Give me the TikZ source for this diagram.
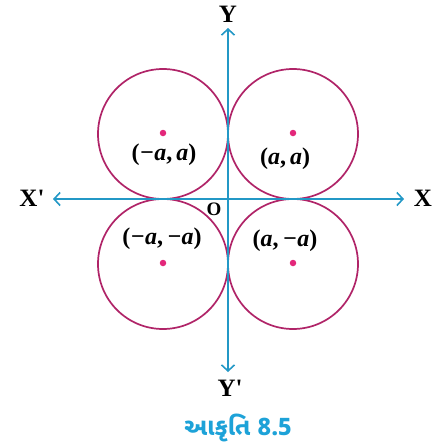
\documentclass[tikz,border=0pt]{standalone}
\usepackage{fontspec}
\setmainfont{Liberation Serif}
\newfontfamily\gujfont[Script=Gujarati]{Noto Sans Gujarati UI}
\usetikzlibrary{arrows.meta}
\definecolor{circcol}{HTML}{B02468}
\definecolor{dotcol}{HTML}{E3277A}
\definecolor{axiscol}{HTML}{2398C6}
\definecolor{capcol}{HTML}{1DA2D8}
\tikzset{
  axis/.style={draw=axiscol, line width=2pt, {Straight Barb[length=6pt,width=13pt,line width=1.6pt]}-{Straight Barb[length=6pt,width=13pt,line width=1.6pt]}},
  circ/.style={draw=circcol, line width=1.7pt},
  cdot/.style={circle, fill=dotcol, inner sep=0pt, minimum size=6.5pt},
  axlabel/.style={font=\bfseries\fontsize{25}{25}\selectfont, text=black, inner sep=0pt},
  ptlabel/.style={font=\bfseries\fontsize{24}{24}\selectfont, text=black, inner sep=0pt},
}
\begin{document}
\begin{tikzpicture}[x=1pt,y=-1pt]
\useasboundingbox (0,0) rectangle (441,448);
\coordinate (O) at (228,199);
% circles
\draw[circ] (163,134) circle (65);
\draw[circ] (293,134) circle (65);
\draw[circ] (163,264) circle (65);
\draw[circ] (293,264) circle (65);
% axes
\coordinate (xl) at (53,199);
\coordinate (xr) at (404,199);
\coordinate (yt) at (228,28);
\coordinate (yb) at (228,372);
\draw[axis] (xl) -- (xr);
\draw[axis] (yb) -- (yt);
% centers
\node[cdot] (c1) at (163,133) {};
\node[cdot] (c2) at (293,133) {};
\node[cdot] (c3) at (163,263) {};
\node[cdot] (c4) at (293,263) {};
% labels
\node[axlabel] (X) at (423,198) {X};
\node[axlabel] (Xp) at (32,198) {X\textquotesingle};
\node[axlabel] (Y) at (228,14) {Y};
\node[axlabel] (Yp) at (230,388) {Y\textquotesingle};
\node[font=\bfseries\fontsize{19}{19}\selectfont, inner sep=0pt] (Olab) at (214,209) {O};
\node[ptlabel] (l1) at (164,155) {(\textit{−a},\,\textit{a})};
\node[ptlabel] (l2) at (285,159) {(\textit{a},\,\textit{a})};
\node[ptlabel] (l3) at (162,239) {(\textit{−a},\,\textit{−a})};
\node[ptlabel] (l4) at (285,241) {(\textit{a},\,\textit{−a})};
\node[font=\gujfont\bfseries\fontsize{24}{24}\selectfont, text=capcol, inner sep=0pt] (cap) at (238,428) {આકૃતિ 8.5};
\end{tikzpicture}
\end{document}
